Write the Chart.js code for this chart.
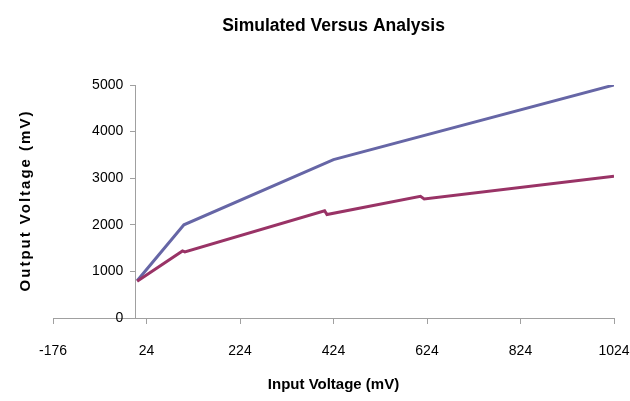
<!DOCTYPE html>
<html>
<head>
<meta charset="utf-8">
<script src="https://cdn.jsdelivr.net/npm/chart.js"></script>
<style>
  body { margin: 0; background: #fff; }
  #wrap { width: 630px; height: 401px; }
</style>
</head>
<body>
<div id="wrap"><canvas id="js--chart"></canvas></div>
<script>
const chartTitle = 'Simulated Versus Analysis';
const xTitle = 'Input Voltage (mV)';
const yTitle = 'Output Voltage (mV)';

// simulated curve (blue)
const simInput = [4, 104, 424, 1024];
const simOutput = [800, 2000, 3400, 5000];

// analysis curve (red)
const anaInput = [4, 101, 106, 405, 410, 610, 618, 1024];
const anaOutput = [790, 1440, 1420, 2300, 2220, 2610, 2555, 3040];

const xMin = -176, xMax = 1024, xStep = 200;
const yMin = 0, yMax = 5000, yStep = 1000;

const fam = '"Liberation Sans", Arial, sans-serif';
const axisColor = '#a0a0a0';
// labels of the y axis sit a bit left of the axis line (x units)
const yLabelShift = -25.7;

function toPoints(xs, ys) {
    return xs.map(function (x, i) { return {x: x, y: ys[i]}; });
}

// y title has wide letter spacing in the original
const yTitlePlugin = {
    id: 'yTitle',
    afterDraw(chart) {
        const c = chart.ctx, area = chart.chartArea;
        c.save();
        c.translate(26, (area.top + area.bottom) / 2);
        c.rotate(-Math.PI / 2);
        c.font = 'bold 15px ' + fam;
        c.letterSpacing = '2px';
        c.textAlign = 'center';
        c.textBaseline = 'middle';
        c.fillStyle = '#000';
        c.fillText(yTitle, 1, 0);
        c.restore();
    }
};

const ctx = document.getElementById('js--chart');
new Chart(ctx, {
    type: 'line',
    data: {
        datasets: [{
            label: 'Simulated',
            data: toPoints(simInput, simOutput),
            borderColor: '#6666a6',
            borderWidth: 3,
            pointRadius: 0,
            order: 1
        }, {
            label: 'Analysis',
            data: toPoints(anaInput, anaOutput),
            borderColor: '#993366',
            borderWidth: 3,
            pointRadius: 0,
            order: 0
        }]
    },
    options: {
        responsive: true,
        maintainAspectRatio: false,
        animation: false,
        layout: {padding: {left: 53, right: 16, top: 0, bottom: 83}},
        plugins: {
            legend: {display: false},
            tooltip: {enabled: false},
            title: {
                display: true,
                text: chartTitle,
                color: '#000',
                font: {family: fam, size: 17.5, weight: 'bold'},
                padding: {top: 16, bottom: 48}
            }
        },
        scales: {
            x: {
                type: 'linear',
                position: {y: 0},
                min: xMin,
                max: xMax,
                // tall line box pushes the labels down without widening the side padding
                ticks: {stepSize: xStep, color: '#000', padding: 0, format: {useGrouping: false},
                    font: {family: fam, size: 14, lineHeight: '56px'}},
                grid: {drawOnChartArea: false, drawTicks: true, tickLength: 5, color: axisColor},
                border: {color: axisColor, width: 1},
                title: {display: true, text: xTitle, color: '#000', padding: {top: -3.5, bottom: 0},
                    font: {family: fam, size: 15, weight: 'bold'}}
            },
            y: {
                type: 'linear',
                position: {x: 0},
                min: yMin,
                max: yMax,
                ticks: {stepSize: yStep, display: false},
                grid: {drawOnChartArea: false, drawTicks: true, tickLength: 5, color: axisColor},
                border: {color: axisColor, width: 1}
            },
            yLabels: {
                type: 'linear',
                axis: 'y',
                position: {x: yLabelShift},
                min: yMin,
                max: yMax,
                ticks: {stepSize: yStep, color: '#000', format: {useGrouping: false},
                    font: {family: fam, size: 14}},
                grid: {display: false},
                border: {display: false}
            }
        }
    },
    plugins: [yTitlePlugin]
});
</script>
</body>
</html>
